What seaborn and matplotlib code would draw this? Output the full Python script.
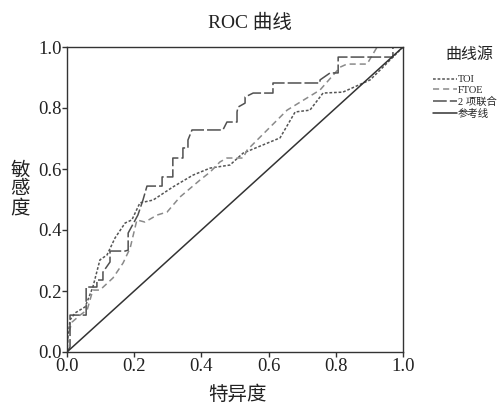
import matplotlib
matplotlib.use('Agg')
import matplotlib.pyplot as plt
import seaborn as sns

# ROC curve vertices (1 - specificity, sensitivity)
toi_fpr = [0.0, 0.003, 0.009, 0.024, 0.054, 0.077, 0.098, 0.119, 0.143, 0.173, 0.193, 0.217,
           0.256, 0.315, 0.375, 0.426, 0.485, 0.524, 0.634, 0.679, 0.723, 0.762, 0.821,
           0.902, 0.926, 1.0]
toi_tpr = [0.0, 0.049, 0.105, 0.128, 0.148, 0.213, 0.302, 0.318, 0.374, 0.423, 0.433, 0.489,
           0.498, 0.541, 0.580, 0.603, 0.613, 0.652, 0.702, 0.787, 0.793, 0.849, 0.852,
           0.892, 0.918, 1.0]

ftoe_fpr = [0.0, 0.003, 0.015, 0.039, 0.060, 0.077, 0.098, 0.137, 0.167, 0.188, 0.208, 0.232,
            0.268, 0.298, 0.336, 0.396, 0.426, 0.455, 0.476, 0.524, 0.536, 0.655, 0.753,
            0.813, 0.833, 0.893, 0.923, 1.0]
ftoe_tpr = [0.0, 0.056, 0.098, 0.121, 0.138, 0.203, 0.203, 0.243, 0.292, 0.341, 0.433, 0.426,
            0.449, 0.459, 0.508, 0.564, 0.590, 0.623, 0.636, 0.636, 0.662, 0.793, 0.859,
            0.934, 0.944, 0.944, 1.0, 1.0]

comb_fpr = [0.0, 0.009, 0.009, 0.057, 0.057, 0.089, 0.089, 0.107, 0.107, 0.128, 0.128, 0.173,
            0.182, 0.182, 0.211, 0.226, 0.238, 0.283, 0.283, 0.315, 0.315, 0.345, 0.345,
            0.360, 0.360, 0.372, 0.464, 0.476, 0.506, 0.506, 0.509, 0.530, 0.530, 0.554,
            0.613, 0.613, 0.753, 0.753, 0.783, 0.807, 0.807, 0.970, 0.970, 1.0]
comb_tpr = [0.0, 0.016, 0.121, 0.121, 0.213, 0.213, 0.236, 0.236, 0.262, 0.295, 0.331, 0.331,
            0.334, 0.390, 0.449, 0.498, 0.544, 0.544, 0.574, 0.574, 0.636, 0.636, 0.669,
            0.669, 0.695, 0.728, 0.728, 0.754, 0.754, 0.787, 0.803, 0.816, 0.836, 0.849,
            0.849, 0.882, 0.882, 0.892, 0.915, 0.915, 0.967, 0.967, 1.0, 1.0]

ref_x = [0.0, 1.0]
ref_y = [0.0, 1.0]

labels = ['TOI', 'FTOE', '2 项联合', '参考线']
ticks = [0.0, 0.2, 0.4, 0.6, 0.8, 1.0]

sns.set_style('white')
plt.rcParams['font.family'] = ['Liberation Serif', 'Noto Sans CJK SC']
plt.rcParams['axes.unicode_minus'] = False

fig = plt.figure(figsize=(5.03, 4.03), dpi=100)
ax = fig.add_axes([67 / 503, 1 - 352 / 403, 336 / 503, 305 / 403])

kw = dict(ax=ax, sort=False, estimator=None, linewidth=1.1)
sns.lineplot(x=toi_fpr, y=toi_tpr, color='#555555', linestyle=(0, (1.8, 1.2)), label=labels[0], **kw)
sns.lineplot(x=ftoe_fpr, y=ftoe_tpr, color='#8a8a8a', linestyle=(0, (4, 2.6)), label=labels[1], **kw)
sns.lineplot(x=comb_fpr, y=comb_tpr, color='#505050', linestyle=(0, (9, 2)), label=labels[2], **kw)
sns.lineplot(x=ref_x, y=ref_y, color='#333333', linestyle='-', label=labels[3], **kw)

ax.set_xlim(0, 1)
ax.set_ylim(0, 1)
ax.set_xticks(ticks)
ax.set_yticks(ticks)
ax.set_xticklabels([f'{t:.1f}' for t in ticks])
ax.set_yticklabels([f'{t:.1f}' for t in ticks])
ax.tick_params(axis='both', direction='out', length=3.5, width=1, color='#333333',
               labelsize=13.5, labelcolor='#222222', pad=0.5, bottom=True, left=True)
for sp in ax.spines.values():
    sp.set_color('#333333')
    sp.set_linewidth(1)

ax.set_xlabel('特异度', fontsize=14, color='#222222', va='center')
ax.xaxis.set_label_coords(0.506, -0.141)
ax.set_ylabel('敏\n感\n度', fontsize=14, rotation=0, va='center', ha='center',
              linespacing=1.1, color='#222222')
ax.yaxis.set_label_coords(-0.14, 0.531)

fig.text(250 / 503, 1 - 23 / 403, 'ROC 曲线', fontsize=14, ha='center', va='center',
         color='#222222')

# legend sits in the right margin, title drawn as plain text above it
handles, labs = ax.get_legend_handles_labels()
ax.get_legend().remove()
fig.text(469 / 503, 1 - 55 / 403, '曲线源', fontsize=11.5, ha='center', va='center',
         color='#222222')
fig.legend(handles, labs, loc='upper left', bbox_to_anchor=(433 / 503, 1 - 75 / 403),
           frameon=False, fontsize=7.5, handlelength=2.3, handletextpad=0.1,
           labelspacing=0.15, borderpad=0, borderaxespad=0)

fig.savefig('out.png', dpi=100)
